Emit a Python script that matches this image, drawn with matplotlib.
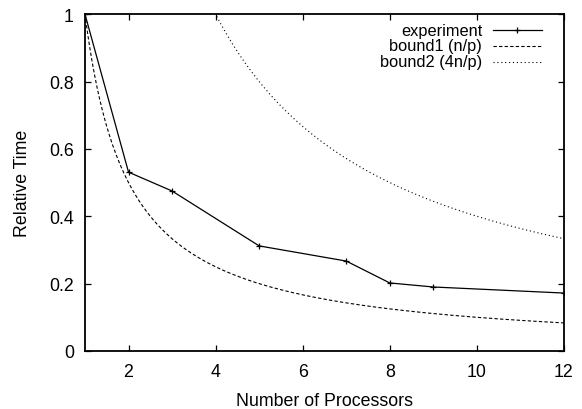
import numpy as np
import matplotlib
matplotlib.use("Agg")
import matplotlib.pyplot as plt
from matplotlib.lines import Line2D

plt.rcParams['font.family'] = ['Liberation Sans', 'DejaVu Sans']

# measured run times (relative to one processor)
processors = [1, 2, 3, 5, 7, 8, 9, 12]
relative_time = [1.0, 0.531, 0.475, 0.312, 0.267, 0.202, 0.19, 0.172]

# theoretical bounds: n/p and 4n/p with n = 1
n = 1.0
p_grid = np.linspace(1, 12, 400)
bound1 = n / p_grid
bound2 = 4 * n / p_grid

x_ticks = [2, 4, 6, 8, 10, 12]
y_ticks = [0, 0.2, 0.4, 0.6, 0.8, 1]
y_tick_labels = ['0', '0.2', '0.4', '0.6', '0.8', '1']
legend_labels = ['experiment', 'bound1 (n/p)', 'bound2 (4n/p)']

fs = 12.8
fig = plt.figure(figsize=(5.82, 4.10), dpi=100)
ax = fig.add_axes([0.146, 0.1415, 0.823, 0.8215])

styles = [
    dict(color='black', linewidth=0.9, marker='+', markersize=5, markeredgewidth=0.9),
    dict(color='black', linewidth=0.8, linestyle=(0, (3, 2))),
    dict(color='black', linewidth=0.8, linestyle=(0, (1, 2.5))),
]

ax.plot(processors, relative_time, **styles[0])
ax.plot(p_grid, bound1, **styles[1])
ax.plot(p_grid, bound2, **styles[2])

ax.set_xlim(1, 12)
ax.set_ylim(0, 1)
ax.set_xticks(x_ticks)
ax.set_yticks(y_ticks)
ax.set_yticklabels(y_tick_labels)
ax.tick_params(direction='in', length=4, width=0.9, top=True, right=True,
               labelsize=fs)
ax.tick_params(axis='x', pad=9)
ax.tick_params(axis='y', pad=8)
for s in ax.spines.values():
    s.set_linewidth(1.3)

ax.set_xlabel('Number of Processors', fontsize=fs, labelpad=8)
ax.set_ylabel('Relative Time', fontsize=fs, labelpad=13)

# gnuplot style key: labels right-aligned, samples to the right
row_y = [0.953, 0.906, 0.859]
for label, st, y in zip(legend_labels, styles, row_y):
    ax.text(0.829, y, label, transform=ax.transAxes, ha='right', va='center',
            fontsize=11.8)
    st = dict(st)
    st.pop('marker', None)
    ax.add_line(Line2D([0.852, 0.954], [y, y], transform=ax.transAxes, **st))
ax.add_line(Line2D([0.903], [row_y[0]], transform=ax.transAxes, color='black',
                   marker='+', markersize=5, markeredgewidth=0.9, linestyle='none'))

fig.savefig('out.png', dpi=100)
